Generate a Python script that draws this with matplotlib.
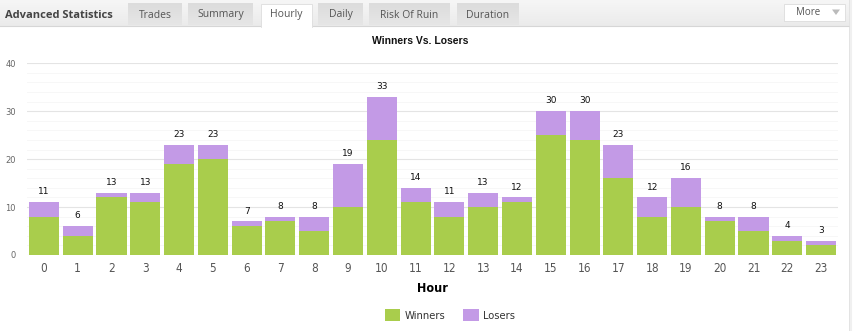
import matplotlib
matplotlib.use("Agg")
import matplotlib.pyplot as plt
import numpy as np
from matplotlib.patches import Rectangle, Polygon
from matplotlib.font_manager import FontProperties

# Trade counts per hour of day
hours = [str(h) for h in range(24)]
winners = [8, 4, 12, 11, 19, 20, 6, 7, 5, 10, 24, 11, 8, 10, 11, 25, 24, 16, 8, 10, 7, 5, 3, 2]
losers = [3, 2, 1, 2, 4, 3, 1, 1, 3, 9, 9, 3, 3, 3, 1, 5, 6, 7, 4, 6, 1, 3, 1, 1]
series_names = ["Winners", "Losers"]
tab_names = ["Trades", "Summary", "Hourly", "Daily", "Risk Of Ruin", "Duration"]
y_ticks = [0, 10, 20, 30, 40]

GREEN = "#a9cd4c"
PURPLE = "#c39ae6"

W, H = 860, 331
fig = plt.figure(figsize=(W / 100, H / 100), dpi=100)
fig.patch.set_facecolor("white")

narrow = FontProperties(family="DejaVu Sans", stretch="condensed", size=8.5)
narrow_bold = FontProperties(family="DejaVu Sans", stretch="condensed", weight="bold", size=9)
narrow_leg = FontProperties(family="DejaVu Sans", stretch="condensed", size=8)

# Overlay in pixel coordinates for the panel header
ov = fig.add_axes([0, 0, 1, 1], zorder=0)
ov.set_xlim(0, W)
ov.set_ylim(H, 0)
ov.axis("off")

# Header gradient
grad = np.linspace(0, 1, 50).reshape(-1, 1)
ov.imshow(grad, extent=(0, 849, 26, 0), aspect="auto",
          cmap=matplotlib.colors.LinearSegmentedColormap.from_list("hdr", ["#f6f6f6", "#ebebeb"]),
          zorder=1)
ov.plot([0, 849], [26, 26], color="#d6d6d6", lw=0.8, zorder=2)
# Panel right border
ov.plot([849.5, 849.5], [0, H], color="#dedede", lw=1.2, zorder=2)
ov.plot([851, 851], [0, H], color="#f0f0f0", lw=1.5, zorder=2)

ov.text(5, 15, "Advanced Statistics", fontsize=8, fontweight="bold", color="#444444",
        family="Open Sans", va="center", ha="left", zorder=3)

tab_spans = [(128, 182), (188, 253), (261, 312), (318, 363), (369, 450), (457, 519)]
tab_grad = matplotlib.colors.LinearSegmentedColormap.from_list("tab", ["#dcdcdc", "#e6e6e6"])
for name, (x0, x1) in zip(tab_names, tab_spans):
    if name == "Hourly":
        ov.add_patch(Rectangle((x0, 4), x1 - x0, 23, facecolor="#ffffff",
                               edgecolor="#dddddd", lw=0.6, zorder=3))
        ov.add_patch(Rectangle((x0 + 0.5, 25), x1 - x0 - 1, 3, facecolor="#ffffff",
                               edgecolor="none", zorder=4))
    else:
        ov.imshow(grad, extent=(x0, x1, 25.5, 4), aspect="auto", cmap=tab_grad, zorder=3)
    ov.text((x0 + x1) / 2, 15, name, fontsize=7.5, color="#555555", family="Open Sans",
            va="center", ha="center", zorder=5)

# "More" button
ov.add_patch(Rectangle((784, 4), 61, 16.5, facecolor="#ffffff", edgecolor="#dcdcdc",
                       lw=0.6, zorder=3))
ov.text(808, 12.5, "More", fontsize=7, color="#555555", family="Open Sans",
        va="center", ha="center", zorder=5)
ov.add_patch(Polygon([(832, 9.5), (840, 9.5), (836, 15)], closed=True,
                     facecolor="#bbbbbb", edgecolor="none", zorder=5))

# Chart
ax = fig.add_axes([27 / W, 1 - 255 / H, 811 / W, (255 - 63.3) / H], zorder=1)
ax.set_facecolor("none")
x = np.arange(len(hours))
bw = 0.89
b1 = ax.bar(x, winners, width=bw, color=GREEN, label=series_names[0], zorder=3)
b2 = ax.bar(x, losers, width=bw, bottom=winners, color=PURPLE, label=series_names[1], zorder=3)

totals = [w + l for w, l in zip(winners, losers)]
for xi, t in zip(x, totals):
    ax.annotate(str(t), (xi, t), xytext=(0, 7.5), textcoords="offset points",
                ha="center", va="center", fontsize=6.5, color="#111111",
                family="DejaVu Sans")

ax.set_xlim(-0.5, len(hours) - 0.5)
ax.set_ylim(0, 40)
ax.set_yticks(y_ticks)
ax.set_yticks(np.arange(0, 41, 2), minor=True)
ax.grid(axis="y", which="major", color="#e4e4e4", lw=0.8, zorder=0)
ax.grid(axis="y", which="minor", color="#f7f7f7", lw=0.7, zorder=0)
ax.set_xticks(x)
ax.set_xticklabels(hours, fontproperties=narrow, color="#555555")
ax.tick_params(axis="x", length=0, pad=5)
ax.tick_params(axis="y", which="both", length=0, pad=8, labelsize=6, labelcolor="#666666")
for s in ax.spines.values():
    s.set_visible(False)

ax.set_xlabel("Hour", fontproperties=narrow_bold, color="#000000", labelpad=5)

fig.text(420 / W, 1 - 41 / H, "Winners Vs. Losers", ha="center", va="center",
         fontsize=7.5, fontweight="bold", family="Liberation Sans", color="#111111")

fig.legend(handles=[b1, b2], labels=series_names, loc="center",
           bbox_to_anchor=(450 / W, 1 - 315 / H), ncol=2, frameon=False,
           prop=narrow_leg,
           handlelength=1.4, handleheight=1.2, handletextpad=0.4, columnspacing=1.6,
           labelcolor="#333333")

fig.savefig("out.png", dpi=100, facecolor="white")
